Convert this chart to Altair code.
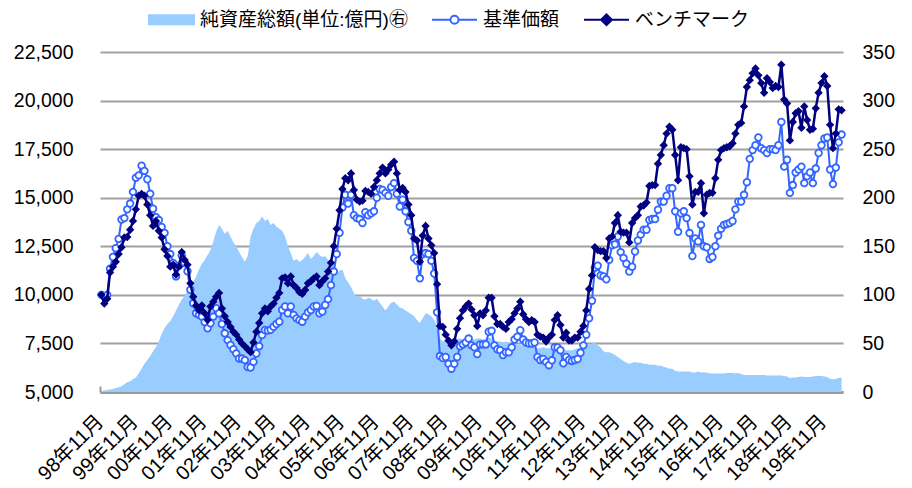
import json
import altair as alt
import pandas as pd

NA_NAME = "純資産総額(単位:億円)㊨"
BP_NAME = "基準価額"
BM_NAME = "ベンチマーク"

NA_COLOR = "#99CCFF"
BP_COLOR = "#3366FF"
BM_COLOR = "#000080"

x_labels = ["98年11月", "99年11月", "00年11月", "01年11月", "02年11月", "03年11月",
            "04年11月", "05年11月", "06年11月", "07年11月", "08年11月", "09年11月",
            "10年11月", "11年11月", "12年11月", "13年11月", "14年11月", "15年11月",
            "16年11月", "17年11月", "18年11月", "19年11月"]

left_ticks = [5000, 7500, 10000, 12500, 15000, 17500, 20000, 22500]
right_ticks = [0, 50, 100, 150, 200, 250, 300, 350]

# monthly values, 1998-11 .. 2020-05
base_price = [
    10000, 9900, 10000, 11350, 11950, 12400, 12880, 13880, 13950, 14400, 14700, 15300,
    16030, 16150, 16650, 16380, 15950, 15200, 14430, 14000, 13850, 13500, 13190, 12500,
    12100, 11640, 10950, 11500, 12020, 11640, 11210, 10260, 9570, 9050, 8970, 8880,
    8600, 8280, 8540, 8880, 9310, 9050, 8500, 8020, 7670, 7420, 7200, 6980,
    6720, 6720, 6640, 6290, 6260, 6550, 6980, 7360, 7930, 8190, 8160, 8200,
    8360, 8500, 8620, 9220, 9400, 9050, 9400, 8970, 8790, 8700, 8620, 8880,
    9100, 9220, 9400, 9430, 9050, 9140, 9480, 9780, 10500, 11200, 12100, 13200,
    14500, 15150, 14700, 15150, 14100, 13950, 13900, 13700, 14250, 14100, 14200, 14300,
    15000, 15450, 15400, 15250, 15100, 15550, 15750, 15200, 14550, 14900, 14300, 13750,
    13300, 11900, 11750, 10850, 12100, 12150, 12100, 11750, 11100, 9100, 6850, 6750,
    6800, 6450, 6200, 6450, 6800, 7350, 7450, 7550, 7750, 7400, 7300, 6950,
    7450, 7450, 7450, 8100, 8150, 7400, 7200, 7150, 6900, 7050, 7050, 7300,
    7700, 7850, 8180, 7700, 7550, 7500, 7500, 7550, 6800, 6650, 6700, 6550,
    6380, 6630, 7300, 7290, 7150, 6480, 6800, 6650, 6600, 6650, 6700, 7020,
    7400, 7950, 8800, 9700, 11400, 11500, 11000, 10950, 10800, 11800, 12550, 12600,
    13000, 12200, 11900, 11600, 11200, 11450, 12230, 12800, 13100, 13350, 13350, 13850,
    13900, 13900, 14380, 14800, 14800, 15100, 15490, 15490, 14300, 13250, 14200, 14300,
    13950, 13180, 12000, 12900, 12750, 13600, 12500, 12450, 11850, 11950, 12500, 13050,
    13400, 13600, 13650, 13700, 13800, 14400, 14800, 14800, 15150, 15800, 17000, 17450,
    17700, 18100, 17550, 17450, 17300, 17500, 17500, 17450, 17700, 18900, 16600, 16950,
    15250, 15650, 16300, 16450, 16600, 15750, 16100, 16300, 15750, 16500, 17300, 17700,
    18050, 18100, 16450, 15700, 16550, 17850, 18250,
]

benchmark = [
    10000, 9550, 9800, 11150, 11450, 11700, 12100, 12450, 12950, 12980, 13350, 13800,
    14400, 15100, 15200, 15100, 14650, 14100, 13550, 13800, 13300, 12950, 12350, 12000,
    11450, 11550, 11050, 11450, 12200, 11800, 11550, 10600, 9900, 9450, 9200, 9450,
    9050, 8700, 9400, 9650, 9900, 10100, 9300, 8900, 8600, 8350, 8100, 7950,
    7700, 7500, 7350, 7200, 7050, 7550, 8100, 8550, 9050, 9300, 9150, 9400,
    9550, 9850, 10100, 10850, 10900, 10600, 10950, 10500, 10350, 10150, 10050, 10250,
    10600, 10700, 10850, 10950, 10500, 10700, 10850, 11200, 11650, 12500, 13400, 14350,
    15450, 16000, 15900, 16250, 15400, 14900, 14800, 14850, 15350, 15300, 15200, 15550,
    15900, 16250, 16550, 16250, 16450, 16700, 16850, 16250, 15400, 15500, 15300, 14650,
    14100, 12900, 12800, 11700, 13050, 13550, 12900, 12550, 12150, 10550, 8400, 8350,
    7950, 7650, 7400, 7600, 8250, 8800, 9200, 9400, 9550, 9250, 8950, 8400,
    9050, 8950, 9200, 9850, 9850, 8900, 8500, 8500, 8350, 8250, 8600, 8750,
    9050, 9300, 9650, 9000, 8750, 8600, 8700, 8600, 7950, 7850, 7800, 7600,
    7800, 7950, 8700, 8950, 8450, 7800, 8050, 7650, 7650, 7800, 7800, 8100,
    8400, 9200, 10300, 11000, 12450, 12300, 12250, 12250, 11900, 12900, 13000, 13700,
    14100, 13250, 13200, 13200, 12700, 13700, 13950, 14100, 14550, 14600, 14750, 15600,
    15650, 15650, 16750, 17200, 17700, 18300, 18650, 18500, 17200, 15900, 17600, 17550,
    17500, 16100, 14650, 15300, 15300, 15750, 14200, 15150, 15250, 15250, 16000, 16950,
    17450, 17550, 17600, 17650, 17800, 18300, 18750, 18850, 19700, 20700, 21050, 21400,
    21650, 21300, 20900, 20400, 21150, 20950, 20650, 20750, 20700, 21850, 20050, 19850,
    17950, 18900, 19350, 19450, 18600, 19700, 19000, 18500, 18550, 19600, 20400, 20900,
    21250, 20750, 18750, 17550, 18300, 19550, 19500,
]

net_assets = [
    1, 1.5, 2, 2.5, 3, 4, 5, 6, 8, 10, 11, 13,
    15, 19, 24, 29, 33, 37, 42, 46, 52, 60, 66, 70,
    73, 78, 84, 90, 95, 99, 104, 108, 113, 119, 126, 132,
    136, 141, 146, 155, 165, 172, 168, 163, 166, 160, 154, 150,
    144, 139, 134, 140, 160, 168, 174, 176, 181, 176, 178, 172,
    174, 170, 168, 166, 160, 150, 143, 135, 137, 134, 136, 139,
    143, 137, 140, 144, 141, 139, 140, 136, 133, 132, 122, 125,
    126, 117, 113, 108, 102, 98, 99, 96, 95, 97, 96, 94,
    96, 92, 88, 84, 88, 92, 93, 90, 87, 86, 84, 82,
    80, 78, 74, 71, 76, 81, 80, 78, 74, 67, 55, 52,
    53, 54, 53, 54, 55, 55, 54, 53, 54, 55, 54, 55,
    55, 54, 55, 56, 55, 53, 52, 52, 51, 52, 51, 50,
    50, 49, 48, 48, 47, 47, 47, 46, 45, 45, 46, 45,
    45, 44, 45, 45, 44, 43, 43, 43, 43, 44, 45, 46,
    47, 48, 49, 50, 51, 48, 46, 42, 41, 41, 40, 38,
    36, 34, 32, 30, 29, 30, 31, 30, 30, 29, 29, 28,
    28, 28, 27, 27, 26, 25, 24, 24, 22, 21, 21, 21,
    21, 21, 20, 20, 21, 20, 20, 20, 19, 19, 19, 19,
    19, 19, 19.5, 19.5, 19.5, 19, 19.5, 18.5, 17.5, 17.5, 17.5, 17.5,
    17.5, 17.5, 17.5, 17.5, 17, 17, 17, 17, 17, 17, 16.5, 16,
    14.5, 15, 15, 15.5, 16, 15.5, 15.5, 15.5, 16, 16.5, 16.5, 16.5,
    16, 15.5, 13.5, 13, 13.5, 14.5, 15,
]

n = len(base_price)
pos = [i + 0.5 for i in range(n)]

df_bp = pd.DataFrame({"m": pos, "v": base_price, "series": BP_NAME})
df_bm = pd.DataFrame({"m": pos, "v": benchmark, "series": BM_NAME})
df_na = pd.DataFrame({"m": pos, "v": net_assets, "series": NA_NAME})

NUM_FONT = "Liberation Sans, Arial, Noto Sans CJK JP"
GRID = "#A0A0A0"

label_expr = json.dumps(x_labels, ensure_ascii=False) + "[round(datum.value / 12)]"

x_axis = alt.Axis(
    values=list(range(0, 12 * len(x_labels), 12)),
    labelExpr=label_expr,
    labelAngle=315, labelAlign="right", labelBaseline="middle",
    labelFont=NUM_FONT, labelFontSize=20, labelColor="black",
    labelPadding=32, labelFlush=False, labelOverlap=False, labelBound=False,
    domain=True, domainColor="#999999", domainWidth=3,
    ticks=True, tickColor="#999999", tickWidth=2, tickSize={"expr": "-6"},
    grid=False, title=None,
)
x_enc = alt.X("m:Q", scale=alt.Scale(domain=[0, n], nice=False, zero=False), axis=x_axis)

left_axis = alt.Axis(
    values=left_ticks, format=",d", orient="left",
    labelFont=NUM_FONT, labelFontSize=19.5, labelColor="black", labelPadding=27,
    domain=False, ticks=False, grid=True, gridColor=GRID, gridWidth=2, title=None,
)
right_axis = alt.Axis(
    values=right_ticks, format="d", orient="right",
    labelFont=NUM_FONT, labelFontSize=19.5, labelColor="black", labelPadding=19,
    domain=False, ticks=False, grid=False, title=None,
)
y_left = alt.Y("v:Q", scale=alt.Scale(domain=[5000, 22500], nice=False, zero=False), axis=left_axis)
y_right = alt.Y("v:Q", scale=alt.Scale(domain=[0, 350], nice=False), axis=right_axis)

names = [NA_NAME, BP_NAME, BM_NAME]
RECT_PATH = "M-1,-0.2H1V0.2H-1Z"
CIRC_PATH = "M-1,0H-0.18M0.18,0H1M0.18,0A0.18,0.18,0,1,1,-0.18,0A0.18,0.18,0,1,1,0.18,0Z"
DIAM_PATH = "M-1,0H1M0,-0.24L0.24,0L0,0.24L-0.24,0Z"


def pick(a, b, c):
    return (f"datum.value === '{NA_NAME}' ? '{a}' : "
            f"datum.value === '{BP_NAME}' ? '{b}' : '{c}'")


legend = alt.Legend(
    title=None, orient="none", direction="horizontal",
    legendX=48, legendY=-56, padding=0,
    symbolType={"expr": pick(RECT_PATH, CIRC_PATH, DIAM_PATH)},
    symbolFillColor={"expr": pick(NA_COLOR, "#FFFFFF", BM_COLOR)},
    symbolStrokeColor={"expr": pick(NA_COLOR, BP_COLOR, BM_COLOR)},
    symbolSize=2025, symbolStrokeWidth=2, symbolOpacity=1,
    labelFont=NUM_FONT, labelFontSize=19, labelColor="black",
    labelOffset=5, columnPadding=20, labelLimit=400,
)

area = alt.Chart(df_na).mark_area(color=NA_COLOR, opacity=1).encode(x=x_enc, y=y_right)

bp_line = alt.Chart(df_bp).mark_line(strokeWidth=2).encode(
    x=x_enc, y=y_left,
    color=alt.Color("series:N", scale=alt.Scale(domain=names, range=[NA_COLOR, BP_COLOR, BM_COLOR]),
                    legend=legend),
)
bp_pts = alt.Chart(df_bp).mark_point(
    shape="circle", filled=True, fill="white", stroke=BP_COLOR, strokeWidth=1.8, size=44, opacity=1
).encode(x=x_enc, y=y_left)
bm_line = alt.Chart(df_bm).mark_line(color=BM_COLOR, strokeWidth=2.5).encode(x=x_enc, y=y_left)
bm_pts = alt.Chart(df_bm).mark_point(
    shape="diamond", filled=True, color=BM_COLOR, size=70, opacity=1
).encode(x=x_enc, y=y_left)

lines = alt.layer(bp_line, bp_pts, bm_line, bm_pts)

chart = alt.layer(area, lines).resolve_scale(y="independent").properties(
    width=743, height=340,
    autosize=alt.AutoSizeParams(type="none"),
    padding={"left": 92, "top": 44, "right": 61, "bottom": 96},
    background="white",
).configure_view(stroke=None)

chart.save("out.html", embed_options={"renderer": "svg", "actions": False})
